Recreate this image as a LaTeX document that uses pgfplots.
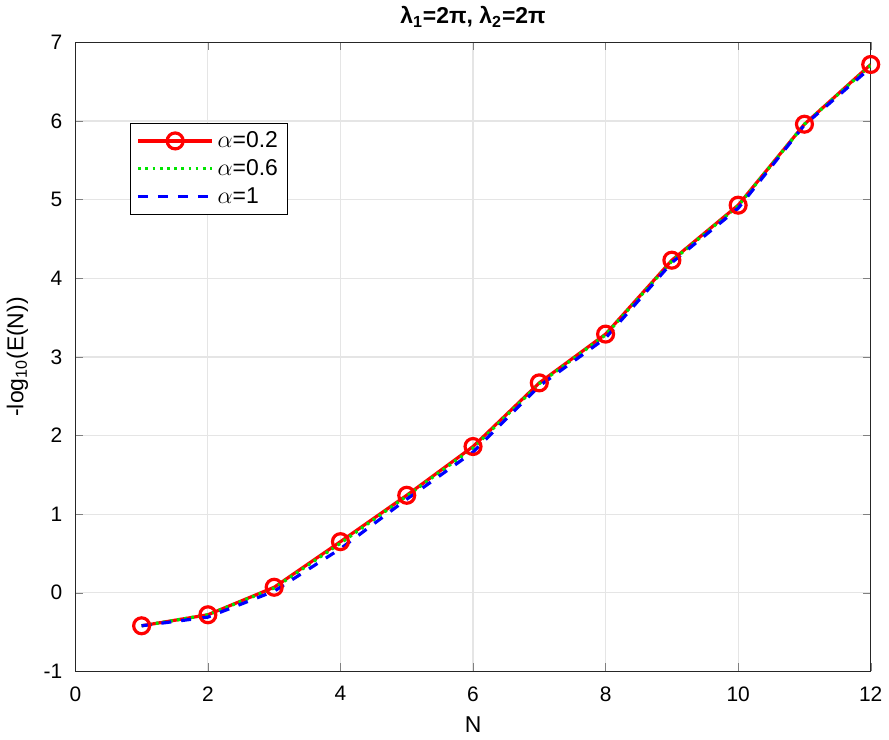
\documentclass[border=0pt]{standalone}
\usepackage{pgfplots}
\pgfplotsset{compat=1.18}
\usepackage{fontspec}
\setmainfont{Liberation Sans}
\begin{document}
\begin{tikzpicture}
\begin{axis}[
    scale only axis, width=399pt, height=315.5pt,
    xmin=0, xmax=12, ymin=-1, ymax=7,
    xtick={0,2,...,12}, ytick={-1,0,...,7},
    tick align=inside, major tick length=4pt,
    xtick pos=both, ytick pos=both,
    grid=major, major grid style={draw=black!10, line width=0.6pt},
    axis line style={black!85, line width=0.5pt},
    /pgf/number format/assume math mode=true,
    tick label style={font=\fontsize{10.5}{12}\selectfont},
    xticklabel style={yshift=-4pt},
    yticklabel style={xshift=-3pt},
    xlabel={N}, ylabel={-log\textsubscript{10}(E(N))},
    label style={font=\fontsize{11.5}{13}\selectfont},
    xlabel style={yshift=-1pt},
    ylabel style={yshift=1pt},
    title={\bfseries λ\textsubscript{1}=2π, λ\textsubscript{2}=2π},
    title style={font=\fontsize{11.5}{13}\selectfont, yshift=-2pt},
    legend style={at={(rel axis cs:0.069,0.872)}, anchor=north west,
        draw=black, line width=0.5pt, font=\fontsize{11.5}{13}\selectfont,
        row sep=0.5pt, inner xsep=3pt, inner ysep=2pt},
    legend cell align=left,
    legend image code/.code={
        \draw[#1] (0cm,0cm) -- (1.3cm,0cm);
        \draw[#1, only marks] plot coordinates {(0.65cm,0cm)};
    },
]
\addplot[red, line width=1.6pt, mark=o, mark size=4pt, mark options={solid, line width=1.6pt}]
coordinates {(1,-0.42) (2,-0.28) (3,0.07) (4,0.65) (5,1.24) (6,1.86) (7,2.67) (8,3.29) (9,4.23) (10,4.93) (11,5.96) (12,6.72)};
\addlegendentry{$\alpha$=0.2}
\addplot[green!90!black, line width=1.6pt, dash pattern=on 1.4pt off 2.2pt]
coordinates {(1,-0.42) (2,-0.28) (3,0.06) (4,0.63) (5,1.23) (6,1.84) (7,2.66) (8,3.28) (9,4.22) (10,4.92) (11,5.96) (12,6.71)};
\addlegendentry{$\alpha$=0.6}
\addplot[blue, line width=1.6pt, dash pattern=on 5pt off 5pt]
coordinates {(1,-0.42) (2,-0.31) (3,0.02) (4,0.56) (5,1.19) (6,1.79) (7,2.63) (8,3.24) (9,4.20) (10,4.89) (11,5.95) (12,6.68)};
\addlegendentry{$\alpha$=1}
\end{axis}
\end{tikzpicture}
\end{document}
